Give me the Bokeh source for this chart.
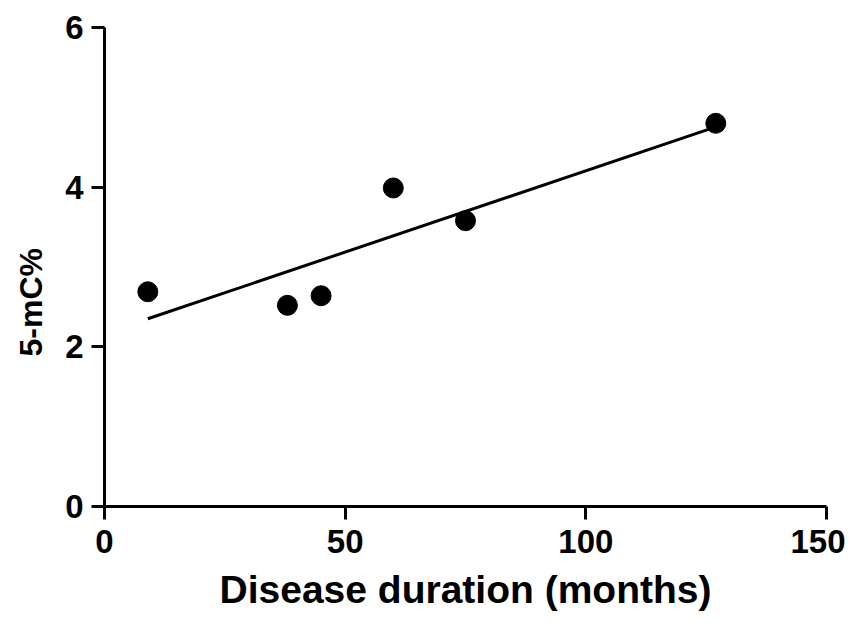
import numpy as np
from bokeh.plotting import figure
from bokeh.models import FixedTicker, Title
from bokeh.embed import file_html
from bokeh.resources import INLINE

# Data
duration_months = [9, 38, 45, 60, 75, 127]
mc_percent = [2.69, 2.52, 2.64, 3.99, 3.58, 4.80]
x_ticks = [0, 50, 100, 150]
y_ticks = [0, 2, 4, 6]
x_label = "Disease duration (months)"
y_label = "5-mC%"

# Linear regression fit of the data
slope, intercept = np.polyfit(duration_months, mc_percent, 1)
fit_x = [min(duration_months), max(duration_months)]
fit_y = [slope * v + intercept for v in fit_x]

FONT = "Liberation Sans"

p = figure(width=845, height=613, x_range=(0, 150), y_range=(0, 6),
           output_backend="svg", toolbar_location=None,
           min_border_left=103, min_border_right=19,
           min_border_top=27, min_border_bottom=107)

p.outline_line_color = None
p.xgrid.visible = False
p.ygrid.visible = False
p.background_fill_color = "white"
p.border_fill_color = "white"

p.line(fit_x, fit_y, line_color="black", line_width=3)
p.scatter(duration_months, mc_percent, size=20, fill_color="black", line_color="black")

for ax, ticks in ((p.xaxis[0], x_ticks), (p.yaxis[0], y_ticks)):
    ax.ticker = FixedTicker(ticks=ticks)
    ax.axis_line_width = 3
    ax.axis_line_color = "black"
    ax.major_tick_line_width = 3
    ax.major_tick_line_color = "black"
    ax.major_tick_out = 13
    ax.major_tick_in = 0
    ax.minor_tick_out = 0
    ax.minor_tick_in = 0
    ax.major_label_text_font = FONT
    ax.major_label_text_font_style = "bold"
    ax.major_label_text_font_size = "33px"
    ax.major_label_text_color = "black"
    ax.axis_label_text_font = FONT
    ax.axis_label_text_font_style = "bold"
    ax.axis_label_text_color = "black"

p.xaxis[0].axis_label = x_label
p.xaxis[0].axis_label_text_font_size = "39px"
p.xaxis[0].major_label_standoff = 10
p.xaxis[0].axis_label_standoff = 12
p.yaxis[0].major_label_standoff = 8

# y-axis title, placed lower than the frame centre as in the reference
p.add_layout(Title(text=y_label, align="left", offset=150, standoff=24,
                   vertical_align="top",
                   text_font=FONT, text_font_style="bold",
                   text_font_size="32px", text_color="black"), "left")

open("out.html", "w").write(file_html(p, INLINE))
